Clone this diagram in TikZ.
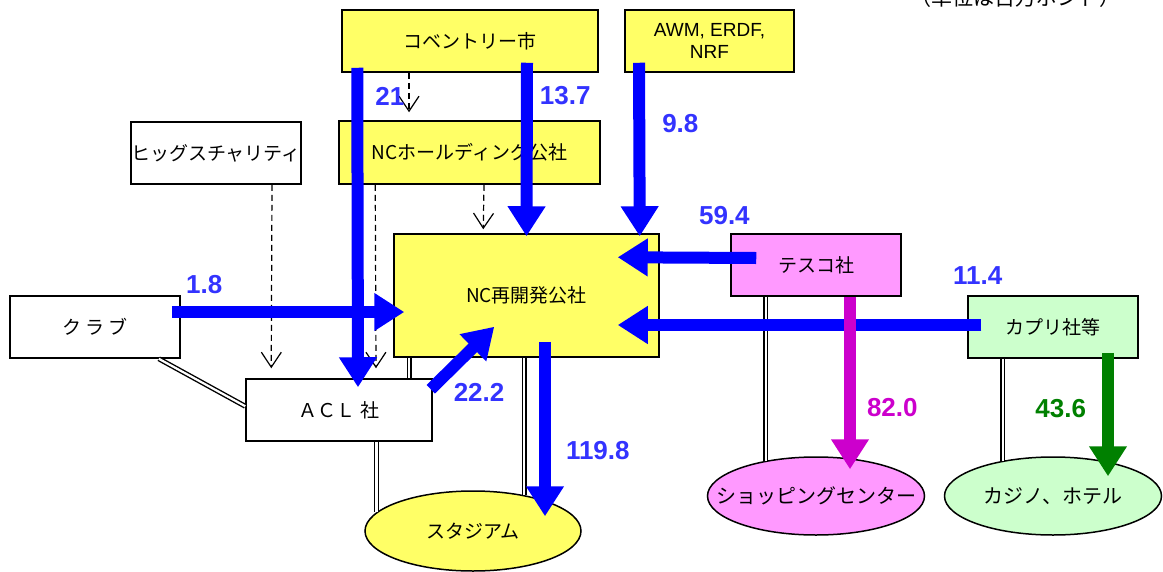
\documentclass[tikz,border=0pt]{standalone}
\usepackage{fontspec}
\setmainfont{Liberation Sans}
\newfontfamily\jp{Noto Sans CJK JP}
\usepackage{xcolor}
\definecolor{colorFund}{HTML}{FFFF66}
\definecolor{colorTesco}{HTML}{FF99FF}
\definecolor{colorCapri}{HTML}{CCFFCC}
\definecolor{colorFlow}{HTML}{0000FF}
\definecolor{colorFlowText}{HTML}{3333FF}
\definecolor{colorShop}{HTML}{CC00CC}
\definecolor{colorCasino}{HTML}{008000}
\usetikzlibrary{arrows.meta, shapes.geometric}
\tikzset{
  party/.style={draw, line width=1.5pt, minimum width=170pt, minimum height=62pt, inner sep=0pt, font=\jp\fontsize{19}{23}\selectfont},
  venue/.style={draw, ellipse, line width=1.5pt, minimum width=216pt, minimum height=80pt, inner xsep=-30pt, inner ysep=0pt, font=\jp\fontsize{19}{23}\selectfont},
  flow/.style={line width=12pt, -{Triangle[width=36pt,length=30pt]}},
  amount/.style={inner sep=0pt, font=\bfseries\fontsize{26}{30}\selectfont},
  control/.style={line width=1.2pt, dash pattern=on 6pt off 4pt, -{Straight Barb[length=15pt,width=20pt]}},
  link/.style={double, double distance=2.2pt, line width=1.4pt}
}
\begin{document}
\begin{tikzpicture}[x=1pt, y=-1pt]
\useasboundingbox (0,0) rectangle (1163,571);
\node[font=\jp\fontsize{21}{24}\selectfont] (unit) at (1015,-2) {（単位は百万ポンド）};
\node[party, fill=colorFund, minimum width=256pt] (cov) at (470,41) {コベントリー市};
\node[party, fill=colorFund, minimum width=169pt, align=center, font=\fontsize{19}{22}\selectfont] (awm) at (709.5,41) {AWM, ERDF,\\NRF};
\node[party] (higgs) at (216,153) {ヒッグスチャリティ};
\node[party, fill=colorFund, minimum width=261pt, minimum height=63pt] (nch) at (469.5,152.5) {NCホールディング公社};
\node[party, fill=colorFund, minimum width=265pt, minimum height=123pt] (ncr) at (526.5,295.5) {NC再開発公社};
\node[party, fill=colorTesco] (tesco) at (816,265) {テスコ社};
\node[party, fill=colorCapri] (capri) at (1053,327) {カプリ社等};
\node[party] (club) at (95,327) {ク ラ ブ};
\node[party, minimum width=186pt] (acl) at (339,410) {ＡＣＬ 社};
\node[venue, fill=colorFund] (stadium) at (473,531) {スタジアム};
\node[venue, fill=colorTesco, minimum width=217pt, minimum height=78pt, font=\jp\fontsize{20}{23}\selectfont] (shop) at (816,496) {ショッピングセンター};
\node[venue, fill=colorCapri, minimum width=217pt, minimum height=78pt, font=\jp\fontsize{20}{23}\selectfont] (casino) at (1053,496) {カジノ、ホテル};
\draw[link] ([xshift=-22pt]club.south east) -- ([yshift=-28pt]acl.north west);
\draw[link] ([xshift=16pt]ncr.south west) -- ([xshift=16pt]ncr.south west |- acl.north);
\draw[link] (stadium.35) -- (stadium.35 |- ncr.south);
\draw[link] (stadium.169) -- (stadium.169 |- acl.south);
\draw[link] (shop.145) -- (shop.145 |- tesco.south);
\draw[link] (casino.145) -- (casino.145 |- capri.south);
\draw[control] ([xshift=-61pt]cov.south) -- ([xshift=-60.5pt,yshift=8pt]nch.north);
\draw[control] ([xshift=56pt]higgs.south) -- ([xshift=26pt,yshift=10pt]acl.north west);
\draw[control] ([xshift=37pt]nch.south west) -- ([xshift=37pt,yshift=10pt]acl.north);
\draw[control] ([xshift=14.5pt]nch.south) -- ([xshift=90pt,yshift=4pt]ncr.north west);
\draw[flow, colorFlow] ([xshift=-9pt,yshift=15pt]club.east) -- node[amount, colorFlowText, pos=0.14, above=12pt]{1.8} ([xshift=11pt,yshift=-16.5pt]ncr.west);
\draw[flow, colorFlow] ([xshift=26pt,yshift=7pt]tesco.west) -- node[amount, colorFlowText, pos=0.23, above=27pt]{59.4} ([xshift=-42pt,yshift=-24pt]ncr.north east);
\draw[flow, colorFlow] ([xshift=14pt,yshift=2pt]capri.west) -- node[amount, colorFlowText, pos=0.01, above=35pt]{11.4} ([xshift=-42pt,yshift=-29.5pt]ncr.east);
\draw[flow, colorFlow] ([xshift=16pt,yshift=5pt]cov.south west) -- node[amount, colorFlowText, pos=0.09, right=12pt]{21} ([xshift=19pt,yshift=-9pt]acl.north);
\draw[flow, colorFlow] ([xshift=57pt,yshift=10pt]cov.south) -- node[amount, colorFlowText, pos=0.19, right=7pt]{13.7} ([yshift=-3pt]ncr.north);
\draw[flow, colorFlow] ([xshift=-70.5pt,yshift=10pt]awm.south) -- node[amount, colorFlowText, pos=0.35, right=17pt]{9.8} ([xshift=-20pt,yshift=-3pt]ncr.north east);
\draw[flow, colorFlow] ([xshift=-2pt,yshift=-11pt]acl.north east) -- node[amount, colorFlowText, pos=0, anchor=west, xshift=17pt, yshift=-3pt]{22.2} ([xshift=101pt,yshift=31pt]ncr.south west);
\draw[flow, colorFlow] ([xshift=18.5pt,yshift=16pt]ncr.south) -- node[amount, colorFlowText, pos=0.625, right=15pt]{119.8} ([xshift=72pt,yshift=-26pt]stadium.north);
\draw[flow, colorShop] ([xshift=34pt]tesco.south) -- node[amount, colorShop, pos=0.64, right=11pt]{82.0} ([xshift=34pt,yshift=-13pt]shop.north);
\draw[flow, colorCasino] ([xshift=55pt,yshift=6pt]capri.south) -- node[amount, colorCasino, pos=0.45, left=16pt]{43.6} ([xshift=55pt,yshift=-20pt]casino.north);
\end{tikzpicture}
\end{document}
